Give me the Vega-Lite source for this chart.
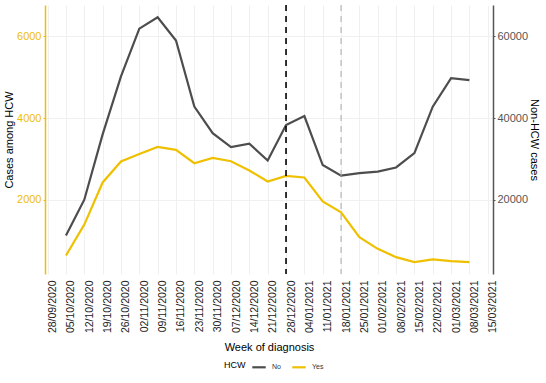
{
  "$schema": "https://vega.github.io/schema/vega-lite/v6.json",
  "width": 448,
  "height": 269,
  "autosize": "none",
  "padding": {"left": 45, "top": 5, "right": 53, "bottom": 109},
  "background": "white",
  "config": {"view": {"stroke": null}, "font": "Liberation Sans"},
  "data": {"values": [
    {"week": "2020-10-05", "HCW": "Yes", "value": 634},
    {"week": "2020-10-12", "HCW": "Yes", "value": 1390},
    {"week": "2020-10-19", "HCW": "Yes", "value": 2423},
    {"week": "2020-10-26", "HCW": "Yes", "value": 2935},
    {"week": "2020-11-02", "HCW": "Yes", "value": 3122},
    {"week": "2020-11-09", "HCW": "Yes", "value": 3293},
    {"week": "2020-11-16", "HCW": "Yes", "value": 3220},
    {"week": "2020-11-23", "HCW": "Yes", "value": 2894},
    {"week": "2020-11-30", "HCW": "Yes", "value": 3024},
    {"week": "2020-12-07", "HCW": "Yes", "value": 2943},
    {"week": "2020-12-14", "HCW": "Yes", "value": 2715},
    {"week": "2020-12-21", "HCW": "Yes", "value": 2447},
    {"week": "2020-12-28", "HCW": "Yes", "value": 2585},
    {"week": "2021-01-04", "HCW": "Yes", "value": 2545},
    {"week": "2021-01-11", "HCW": "Yes", "value": 1959},
    {"week": "2021-01-18", "HCW": "Yes", "value": 1691},
    {"week": "2021-01-25", "HCW": "Yes", "value": 1081},
    {"week": "2021-02-01", "HCW": "Yes", "value": 797},
    {"week": "2021-02-08", "HCW": "Yes", "value": 593},
    {"week": "2021-02-15", "HCW": "Yes", "value": 471},
    {"week": "2021-02-22", "HCW": "Yes", "value": 537},
    {"week": "2021-03-01", "HCW": "Yes", "value": 496},
    {"week": "2021-03-08", "HCW": "Yes", "value": 471},
    {"week": "2020-10-05", "HCW": "No", "value": 11220},
    {"week": "2020-10-12", "HCW": "No", "value": 20000},
    {"week": "2020-10-19", "HCW": "No", "value": 36000},
    {"week": "2020-10-26", "HCW": "No", "value": 50200},
    {"week": "2020-11-02", "HCW": "No", "value": 61900},
    {"week": "2020-11-09", "HCW": "No", "value": 64700},
    {"week": "2020-11-16", "HCW": "No", "value": 59000},
    {"week": "2020-11-23", "HCW": "No", "value": 42800},
    {"week": "2020-11-30", "HCW": "No", "value": 36300},
    {"week": "2020-12-07", "HCW": "No", "value": 32900},
    {"week": "2020-12-14", "HCW": "No", "value": 33700},
    {"week": "2020-12-21", "HCW": "No", "value": 29600},
    {"week": "2020-12-28", "HCW": "No", "value": 38300},
    {"week": "2021-01-04", "HCW": "No", "value": 40500},
    {"week": "2021-01-11", "HCW": "No", "value": 28500},
    {"week": "2021-01-18", "HCW": "No", "value": 25900},
    {"week": "2021-01-25", "HCW": "No", "value": 26500},
    {"week": "2021-02-01", "HCW": "No", "value": 26900},
    {"week": "2021-02-08", "HCW": "No", "value": 27900},
    {"week": "2021-02-15", "HCW": "No", "value": 31400},
    {"week": "2021-02-22", "HCW": "No", "value": 42800},
    {"week": "2021-03-01", "HCW": "No", "value": 49800},
    {"week": "2021-03-08", "HCW": "No", "value": 49300}
  ]},
  "encoding": {
    "x": {
      "field": "week",
      "type": "temporal",
      "scale": {"type": "utc", "domain": [{"year": 2020, "month": 9, "date": 27, "utc": true}, {"year": 2021, "month": 3, "date": 17, "utc": true}]},
      "axis": {
        "title": "Week of diagnosis",
        "values": [
          {"year": 2020, "month": 9, "date": 28, "utc": true},
          {"year": 2020, "month": 10, "date": 5, "utc": true},
          {"year": 2020, "month": 10, "date": 12, "utc": true},
          {"year": 2020, "month": 10, "date": 19, "utc": true},
          {"year": 2020, "month": 10, "date": 26, "utc": true},
          {"year": 2020, "month": 11, "date": 2, "utc": true},
          {"year": 2020, "month": 11, "date": 9, "utc": true},
          {"year": 2020, "month": 11, "date": 16, "utc": true},
          {"year": 2020, "month": 11, "date": 23, "utc": true},
          {"year": 2020, "month": 11, "date": 30, "utc": true},
          {"year": 2020, "month": 12, "date": 7, "utc": true},
          {"year": 2020, "month": 12, "date": 14, "utc": true},
          {"year": 2020, "month": 12, "date": 21, "utc": true},
          {"year": 2020, "month": 12, "date": 28, "utc": true},
          {"year": 2021, "month": 1, "date": 4, "utc": true},
          {"year": 2021, "month": 1, "date": 11, "utc": true},
          {"year": 2021, "month": 1, "date": 18, "utc": true},
          {"year": 2021, "month": 1, "date": 25, "utc": true},
          {"year": 2021, "month": 2, "date": 1, "utc": true},
          {"year": 2021, "month": 2, "date": 8, "utc": true},
          {"year": 2021, "month": 2, "date": 15, "utc": true},
          {"year": 2021, "month": 2, "date": 22, "utc": true},
          {"year": 2021, "month": 3, "date": 1, "utc": true},
          {"year": 2021, "month": 3, "date": 8, "utc": true},
          {"year": 2021, "month": 3, "date": 15, "utc": true}
        ],
        "format": "%d/%m/%Y",
        "labelAngle": -90,
        "labelAlign": "right",
        "labelBaseline": "top",
        "labelFontSize": 10.5,
        "labelColor": "#222222",
        "labelPadding": 6,
        "labelOverlap": false,
        "labelFlush": false,
        "ticks": false,
        "domain": false,
        "grid": true,
        "gridColor": "#f0f0f0",
        "titleFontSize": 11,
        "titleFontWeight": "normal",
        "titleColor": "#000000",
        "titlePadding": 9
      }
    }
  },
  "layer": [
    {
      "transform": [{"filter": "datum.HCW == 'Yes'"}],
      "mark": {"type": "line", "strokeWidth": 2.2},
      "encoding": {
        "y": {
          "field": "value",
          "type": "quantitative",
          "scale": {"domain": [180, 6770], "nice": false, "zero": false},
          "axis": {
            "orient": "left",
            "title": "Cases among HCW",
            "values": [2000, 4000, 6000],
            "format": "d",
            "domainColor": "#EFC000",
            "domainWidth": 1.5,
            "tickColor": "#EFC000",
            "tickSize": 2,
            "labelColor": "#EFC000",
            "labelFontSize": 11,
            "labelPadding": 2,
            "grid": true,
            "gridColor": "#f0f0f0",
            "titleFontSize": 11,
            "titleFontWeight": "normal",
            "titleColor": "#000000",
            "titlePadding": 2
          }
        },
        "color": {
          "field": "HCW",
          "type": "nominal",
          "scale": {"domain": ["No", "Yes"], "range": ["#4D4D4D", "#EFC000"]},
          "legend": {
            "title": "HCW",
            "orient": "none",
            "legendX": 179,
            "legendY": 354,
            "direction": "horizontal",
            "titleOrient": "left",
            "titleFontSize": 9,
            "titleFontWeight": "normal",
            "titleColor": "#000000",
            "titlePadding": 5,
            "labelFontSize": 7,
            "labelColor": "#333333",
            "labelOffset": 5,
            "columnPadding": 6,
            "symbolType": "stroke",
            "symbolSize": 180,
            "symbolStrokeWidth": 2.2
          }
        }
      }
    },
    {
      "transform": [{"filter": "datum.HCW == 'No'"}],
      "mark": {"type": "line", "strokeWidth": 2.2},
      "encoding": {
        "y": {
          "field": "value",
          "type": "quantitative",
          "scale": {"domain": [1800, 67700], "nice": false, "zero": false},
          "axis": {
            "orient": "right",
            "title": "Non-HCW cases",
            "values": [20000, 40000, 60000],
            "format": "d",
            "domainColor": "#555555",
            "domainWidth": 1.5,
            "tickColor": "#555555",
            "tickSize": 2,
            "labelColor": "#555555",
            "labelFontSize": 11,
            "labelPadding": 2,
            "grid": false,
            "titleFontSize": 11,
            "titleFontWeight": "normal",
            "titleColor": "#000000",
            "titlePadding": 1
          }
        },
        "color": {
          "field": "HCW",
          "type": "nominal",
          "scale": {"domain": ["No", "Yes"], "range": ["#4D4D4D", "#EFC000"]}
        }
      }
    },
    {
      "data": {"values": [{"week": "2020-12-28"}]},
      "mark": {"type": "rule", "color": "#000000", "strokeDash": [6, 5], "strokeWidth": 1.6},
      "encoding": {}
    },
    {
      "data": {"values": [{"week": "2021-01-18"}]},
      "mark": {"type": "rule", "color": "#aaaaaa", "strokeDash": [6, 5], "strokeWidth": 1},
      "encoding": {}
    }
  ],
  "resolve": {"scale": {"y": "independent"}}
}
